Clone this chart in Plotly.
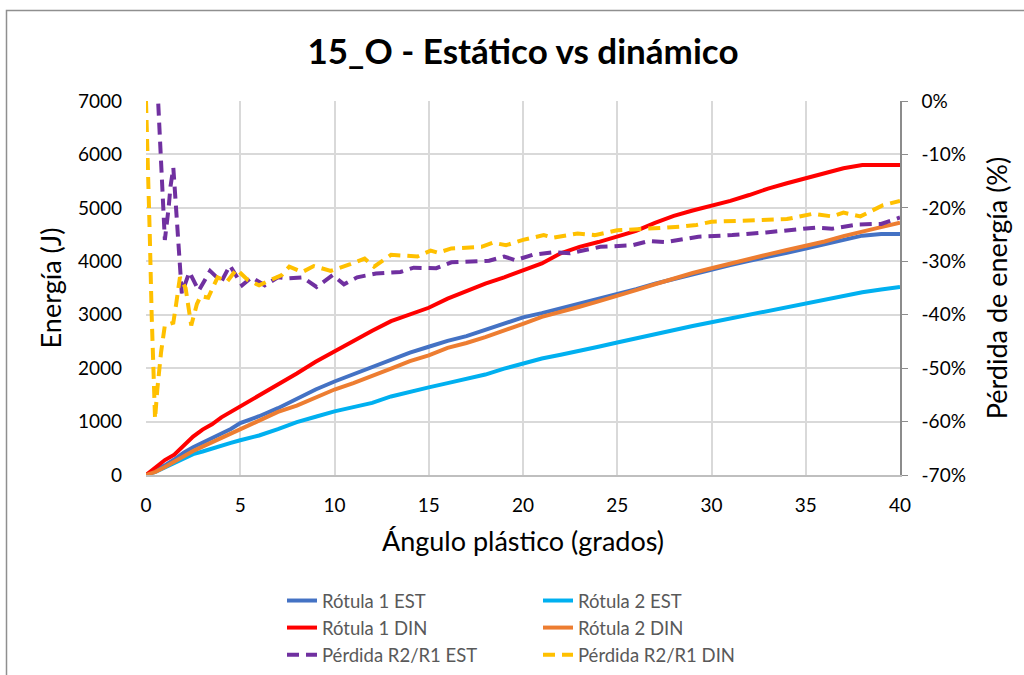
import plotly.graph_objects as go

# ---------------- data ----------------
angle = [0, 0.5, 1, 1.5, 2, 2.5, 3, 3.5, 4, 4.5,
         5, 6, 7, 8, 9, 10, 11, 12, 13, 14, 15, 16, 17, 18, 19, 20,
         21, 22, 23, 24, 25, 26, 27, 28, 29, 30, 31, 32, 33, 34, 35,
         36, 37, 38, 39, 40]

rotula1_est = [0, 80, 180, 290, 420, 520, 600, 680, 760, 860,
               970, 1100, 1250, 1430, 1600, 1750, 1890, 2030, 2170, 2290, 2400,
               2510, 2600, 2720, 2830, 2950, 3030, 3120, 3200, 3290, 3380, 3480,
               3580, 3670, 3760, 3850, 3930, 4010, 4080, 4160, 4240, 4320, 4410,
               4480, 4510, 4510]

rotula2_est = [0, 60, 140, 220, 320, 390, 440, 500, 550, 600,
               650, 740, 860, 990, 1090, 1190, 1270, 1350, 1470, 1560, 1640,
               1720, 1800, 1880, 1990, 2080, 2180, 2250, 2320, 2400, 2480, 2560,
               2640, 2710, 2790, 2860, 2930, 3000, 3070, 3140, 3210, 3290, 3360,
               3420, 3470, 3520]

rotula1_din = [0, 130, 280, 380, 550, 720, 850, 950, 1080, 1180,
               1300, 1500, 1700, 1900, 2120, 2320, 2500, 2700, 2880, 3000, 3130,
               3300, 3450, 3580, 3700, 3830, 3960, 4150, 4270, 4360, 4470, 4570,
               4720, 4850, 4950, 5040, 5130, 5240, 5360, 5460, 5550, 5650, 5740,
               5800, 5800, 5800]

rotula2_din = [0, 60, 150, 250, 360, 450, 530, 610, 700, 790,
               870, 1010, 1180, 1300, 1450, 1600, 1720, 1850, 1990, 2130, 2240,
               2380, 2470, 2580, 2700, 2830, 2960, 3050, 3150, 3250, 3350, 3460,
               3570, 3680, 3780, 3870, 3960, 4040, 4130, 4210, 4290, 4370, 4470,
               4560, 4640, 4720]

perd_est_x = [0.65, 0.8, 1.0, 1.2, 1.3, 1.45, 1.6, 1.9, 2.3, 2.8, 3.4, 4.0,
              4.45, 5.1, 5.6, 6.3, 7.0, 7.6, 8.3, 9.05, 9.9, 10.5, 11.2, 12.2,
              13.5, 14.2, 15.4, 16.2, 18.2, 19.0, 19.6, 20.5, 21.6, 22.5, 24.1,
              25.8, 26.7, 27.6, 29.3, 31.1, 32.9, 34.6, 35.5, 36.4, 37.8, 39.0, 40]
perd_est = [-0.5, -12, -26, -20, -16, -12.5, -20, -36, -32, -35.5, -31.8, -33.8,
            -30.8, -34.5, -33, -34.5, -33, -33.2, -33, -34.8, -32.6, -34.3, -33, -32.3,
            -32, -31.2, -31.3, -30.2, -29.9, -29.1, -29.8, -28.8, -28.3, -28.5, -27.3,
            -27, -26.2, -26.4, -25.4, -25.1, -24.6, -24.1, -23.7, -23.9, -23.1, -23.0, -21.8]

perd_din_x = [0, 0.1, 0.2, 0.3, 0.38, 0.48, 0.6, 0.8, 1.0, 1.45, 1.6, 1.8, 2.1,
              2.4, 2.7, 2.9, 3.3, 3.8, 4.3, 4.8, 5.4, 6.0, 6.6, 7.2, 7.6, 8.3, 8.9,
              9.8, 10.8, 11.6, 12.1, 13.0, 14.4, 15.1, 15.5, 16.2, 17.8, 18.4, 19.1,
              20.0, 21.1, 21.6, 22.9, 23.8, 25.0, 26.4, 27.6, 28.4, 29.2, 30.0, 31.2,
              32.5, 34.0, 35.4, 36.4, 37.0, 37.9, 39.1, 40]
perd_din = [0, -10, -25, -40, -52, -59.5, -54, -47, -42, -41.5, -38, -33, -35,
            -42, -38, -36.5, -36.8, -33, -33.8, -31.5, -33.5, -34.5, -33.5, -32.6, -31, -32, -30.9,
            -31.8, -30.6, -29.5, -31, -28.8, -29.1, -28, -28.4, -27.6, -27.3, -26.5, -27,
            -26, -25.1, -25.6, -24.8, -25.1, -24.2, -24, -23.7, -23.5, -23.2, -22.6, -22.5,
            -22.3, -22.1, -21.1, -21.6, -20.9, -21.6, -19.5, -18.7]

x_ticks = [0, 5, 10, 15, 20, 25, 30, 35, 40]
y_ticks = [0, 1000, 2000, 3000, 4000, 5000, 6000, 7000]
pct_ticks = [0, -10, -20, -30, -40, -50, -60, -70]
pct_labels = ["0%", "-10%", "-20%", "-30%", "-40%", "-50%", "-60%", "-70%"]

# ---------------- figure ----------------
FONT = "Lato"
DASH = "12px,7px"

fig = go.Figure()
fig.add_trace(go.Scatter(x=angle, y=rotula1_est, name="Rótula 1 EST", mode="lines",
                         legend="legend", line=dict(color="#4472C4", width=4)))
fig.add_trace(go.Scatter(x=angle, y=rotula2_est, name="Rótula 2 EST", mode="lines",
                         legend="legend2", line=dict(color="#00B0F0", width=4)))
fig.add_trace(go.Scatter(x=angle, y=rotula1_din, name="Rótula 1 DIN", mode="lines",
                         legend="legend", line=dict(color="#FF0000", width=4)))
fig.add_trace(go.Scatter(x=angle, y=rotula2_din, name="Rótula 2 DIN", mode="lines",
                         legend="legend2", line=dict(color="#ED7D31", width=4)))
fig.add_trace(go.Scatter(x=perd_est_x, y=perd_est, name="Pérdida R2/R1 EST", mode="lines",
                         yaxis="y2", legend="legend",
                         line=dict(color="#7030A0", width=4, dash=DASH)))
fig.add_trace(go.Scatter(x=perd_din_x, y=perd_din, name="Pérdida R2/R1 DIN", mode="lines",
                         yaxis="y2", legend="legend2",
                         line=dict(color="#FFC000", width=4, dash=DASH)))

L, R, T, B = 146, 124, 101, 200
W, H = 1024, 675
pw, ph = W - L - R, H - T - B

legend_common = dict(orientation="v", yanchor="top", xanchor="left",
                     y=(475 - 582) / ph, font=dict(size=18.5, color="#595959"),
                     tracegroupgap=0, bgcolor="rgba(0,0,0,0)", traceorder="normal")

fig.update_layout(
    width=W, height=H,
    margin=dict(l=L, r=R, t=T, b=B, autoexpand=False),
    paper_bgcolor="white", plot_bgcolor="white",
    font=dict(family=FONT, color="#000000"),
    title=dict(text="15_O - Estático vs dinámico", x=0.5, xref="paper", xanchor="center",
               y=1 - 52 / H, yref="container", yanchor="middle",
               font=dict(family=FONT, size=35, color="#000000", weight="bold")),
    xaxis=dict(range=[0, 40], tickvals=x_ticks, showgrid=True, gridcolor="#d9d9d9",
               gridwidth=1.5, zeroline=False, showline=True, linecolor="#bfbfbf",
               linewidth=1.5, ticks="", tickfont=dict(size=19, color="#000000"),
               ticklabelstandoff=12,
               title=dict(text="Ángulo plástico (grados)", font=dict(size=27, color="#000000"),
                          standoff=18)),
    yaxis=dict(range=[0, 7000], tickvals=y_ticks, showgrid=True, gridcolor="#d9d9d9",
               gridwidth=1.5, zeroline=False, showline=False, ticks="",
               tickfont=dict(size=19, color="#000000"), ticklabelstandoff=23,
               title=dict(text="Energía (J)", font=dict(size=27, color="#000000"),
                          standoff=8)),
    yaxis2=dict(range=[-70, 0], tickvals=pct_ticks, ticktext=pct_labels, overlaying="y",
                side="right", showgrid=False, zeroline=False, showline=True,
                linecolor="#8c8c8c", linewidth=1.5, ticks="outside", ticklen=6,
                tickcolor="#8c8c8c", tickfont=dict(size=19, color="#000000"),
                ticklabelstandoff=10,
                title=dict(text="Pérdida de energía (%)", font=dict(size=27, color="#000000"),
                           standoff=23)),
    legend=dict(x=(282 - L) / pw, **legend_common),
    legend2=dict(x=(538 - L) / pw, **legend_common),
    showlegend=True,
)

# outer chart border (top-left visible, right/bottom run off the picture)
fig.add_shape(type="rect", xref="paper", yref="paper",
              x0=(6.5 - L) / pw, x1=(W + 20 - L) / pw,
              y0=(T + ph - (H + 20)) / ph, y1=(T + ph - 10.5) / ph,
              line=dict(color="#8f8f8f", width=1.5), fillcolor="rgba(0,0,0,0)", layer="below")

fig.write_html("out.html")
